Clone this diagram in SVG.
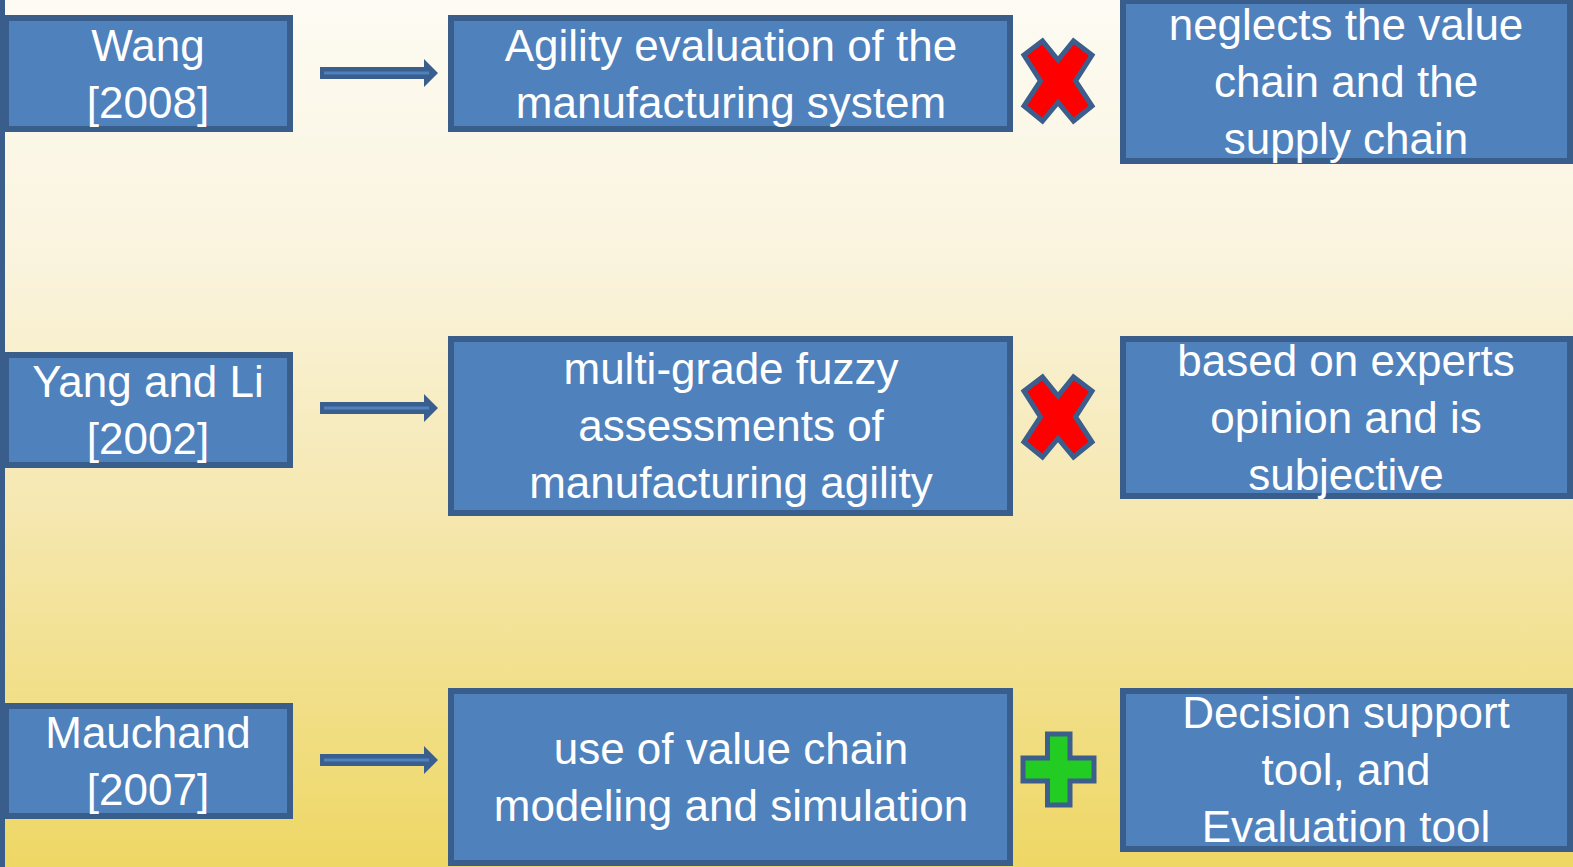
<svg xmlns="http://www.w3.org/2000/svg" width="1573" height="867" viewBox="0 0 1573 867">
<defs>
<linearGradient id="bg" x1="0" y1="0" x2="0" y2="1">
<stop offset="0" stop-color="#FDFBF3"/>
<stop offset="0.3" stop-color="#FAF4DE"/>
<stop offset="0.6" stop-color="#F5E7AE"/>
<stop offset="1" stop-color="#EED764"/>
</linearGradient>
<polygon id="xmark" points="-34,-26 -15.5,-40 0,-21 15.5,-40 34,-26 17.5,0 34,25 15.5,40 0,21.5 -15.5,40 -34,25 -17.5,0"/>
<g id="arrow">
<polygon points="320,-6 424,-6 424,-14 438,0 424,14 424,6 320,6" fill="#3A5F8F"/>
<line x1="324" y1="0" x2="429" y2="0" stroke="#4F81BD" stroke-width="3"/>
</g>
</defs>
<style>
.box{fill:#4F81BD;stroke:#3A5E8C;stroke-width:6}
.t{font-family:"Liberation Sans",Arial,sans-serif;font-size:44px;fill:#FFFFFF;text-anchor:middle}
.x{fill:#FF0000;stroke:#3B5E8C;stroke-width:5;stroke-linejoin:miter}
.plus{fill:#22CC22;stroke:#3B5E8C;stroke-width:5}
</style>
<rect x="0" y="0" width="1573" height="867" fill="url(#bg)"/>
<rect x="0" y="0" width="5" height="867" fill="#3A5E8C"/>

<g id="connectors">
<use href="#arrow" transform="translate(0,73)"/>
<use href="#arrow" transform="translate(0,408)"/>
<use href="#arrow" transform="translate(0,760)"/>
</g>

<g id="wang">
<rect class="box" x="6" y="18" width="284" height="111"/>
<text class="t" x="148" y="61">Wang</text>
<text class="t" x="148" y="118">[2008]</text>
</g>
<g id="agility">
<rect class="box" x="451" y="18" width="559" height="111"/>
<text class="t" x="731" y="61">Agility evaluation of the</text>
<text class="t" x="731" y="118">manufacturing system</text>
</g>
<g id="neglects">
<rect class="box" x="1123" y="1" width="447" height="160"/>
<text class="t" x="1346" y="40">neglects the value</text>
<text class="t" x="1346" y="97">chain and the</text>
<text class="t" x="1346" y="154">supply chain</text>
</g>
<g id="x1">
<use href="#xmark" class="x" transform="translate(1058,81)"/>
</g>

<g id="yang">
<rect class="box" x="6" y="355" width="284" height="110"/>
<text class="t" x="148" y="397">Yang and Li</text>
<text class="t" x="148" y="454">[2002]</text>
</g>
<g id="fuzzy">
<rect class="box" x="451" y="339" width="559" height="174"/>
<text class="t" x="731" y="384">multi-grade fuzzy</text>
<text class="t" x="731" y="441">assessments of</text>
<text class="t" x="731" y="498">manufacturing agility</text>
</g>
<g id="experts">
<rect class="box" x="1123" y="339" width="447" height="157"/>
<text class="t" x="1346" y="376">based on experts</text>
<text class="t" x="1346" y="433">opinion and is</text>
<text class="t" x="1346" y="490">subjective</text>
</g>
<g id="x2">
<use href="#xmark" class="x" transform="translate(1058,417)"/>
</g>

<g id="mauchand">
<rect class="box" x="6" y="706" width="284" height="110"/>
<text class="t" x="148" y="748">Mauchand</text>
<text class="t" x="148" y="805">[2007]</text>
</g>
<g id="valuechain">
<rect class="box" x="451" y="691" width="559" height="172"/>
<text class="t" x="731" y="764">use of value chain</text>
<text class="t" x="731" y="821">modeling and simulation</text>
</g>
<g id="decision">
<rect class="box" x="1123" y="691" width="447" height="158"/>
<text class="t" x="1346" y="728">Decision support</text>
<text class="t" x="1346" y="785">tool, and</text>
<text class="t" x="1346" y="842">Evaluation tool</text>
</g>
<g id="plus">
<polygon class="plus" points="1047.5,734 1070,734 1070,758 1094,758 1094,781 1070,781 1070,805 1047.5,805 1047.5,781 1023,781 1023,758 1047.5,758"/>
</g>
</svg>
